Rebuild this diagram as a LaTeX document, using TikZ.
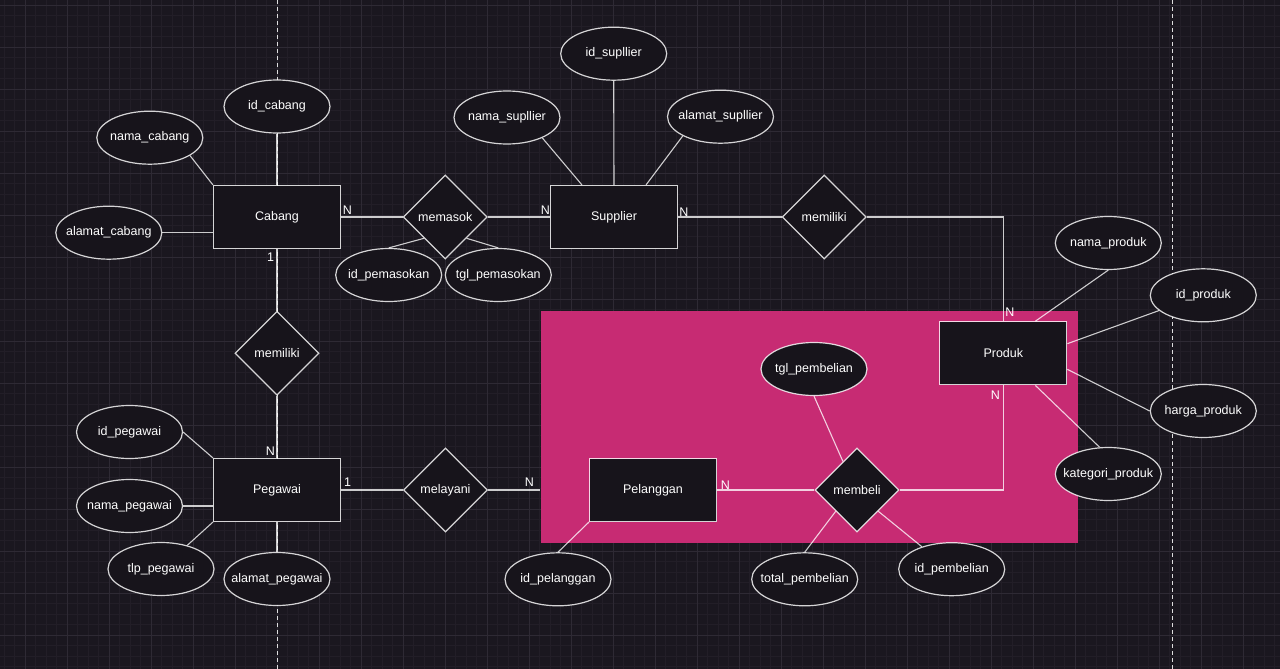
\documentclass[tikz,border=0pt]{standalone}
\usepackage{fontspec}
\setmainfont{Liberation Sans}
\usetikzlibrary{shapes.geometric,calc}
\definecolor{bg}{HTML}{1A171F}
\definecolor{gmaj}{HTML}{2E2A34}
\definecolor{gmin}{HTML}{221E27}
\definecolor{pinkbox}{HTML}{C72B73}
\definecolor{nodefill}{HTML}{17141B}
\newcommand\zt[1]{\makebox[0pt]{#1}}
\begin{document}
\begin{tikzpicture}[x=1pt,y=-1pt,
  base/.style={draw=white, draw opacity=0.82, fill=nodefill, line width=1.2pt, inner sep=0pt,
    text=white, font=\fontsize{12.5}{15}\selectfont},
  ent/.style={base, rectangle, minimum width=127pt, minimum height=63pt},
  rel/.style={base, diamond, aspect=1, minimum width=84pt, minimum height=84pt},
  attr/.style={base, ellipse, minimum width=106pt, minimum height=53pt},
  conn/.style={draw=white, draw opacity=0.78, line width=1.1pt},
  card/.style={text=white, inner sep=0pt, font=\fontsize{12.5}{15}\selectfont}]
\fill[bg] (0,0) rectangle (1280,669);
\useasboundingbox (0,0) rectangle (1280,669);
% grid
\foreach \x in {4,14.5,...,1280} \draw[gmin, line width=0.5pt] (\x,0) -- (\x,669);
\foreach \y in {5,15.5,...,669} \draw[gmin, line width=0.5pt] (0,\y) -- (1280,\y);
\foreach \x in {25,67,...,1280} \draw[gmaj, line width=0.8pt] (\x,0) -- (\x,669);
\foreach \y in {5,47,...,669} \draw[gmaj, line width=0.8pt] (0,\y) -- (1280,\y);
% dashed guides
\draw[white, draw opacity=0.85, line width=0.9pt, dash pattern=on 4pt off 3pt] (277,0) -- (277,669);
\draw[white, draw opacity=0.85, line width=0.9pt, dash pattern=on 4pt off 3pt] (1172,0) -- (1172,669);
% pink area
\node[fill=pinkbox, minimum width=537pt, minimum height=232pt, inner sep=0pt] (zone) at (809,426.7) {};
% entities
\node[ent] (cabang) at (277,217) {Cabang};
\node[ent] (supplier) at (614,217) {Supplier};
\node[ent] (pegawai) at (277,490) {Pegawai};
\node[ent] (pelanggan) at (653,490) {Pelanggan};
\node[ent] (produk) at (1003.3,353.3) {Produk};
% relations
\node[rel] (memasok) at (445.3,217) {memasok};
\node[rel] (memiliki1) at (824.2,217) {memiliki};
\node[rel] (memiliki2) at (277,353.3) {memiliki};
\node[rel] (melayani) at (445.5,490) {melayani};
\node[rel] (membeli) at (857,490) {membeli};
% attributes
\node[attr] (idcabang) at (277,106.5) {\zt{id\_cabang}};
\node[attr] (namacabang) at (149.8,137.7) {\zt{nama\_cabang}};
\node[attr] (alamatcabang) at (108.8,232.7) {\zt{alamat\_cabang}};
\node[attr] (idsupplier) at (613.7,53.7) {\zt{id\_supllier}};
\node[attr] (namasupplier) at (507,117.5) {\zt{nama\_supllier}};
\node[attr] (alamatsupplier) at (720.5,116.7) {\zt{alamat\_supllier}};
\node[attr] (idpemasokan) at (388.7,275) {\zt{id\_pemasokan}};
\node[attr] (tglpemasokan) at (498.3,275) {\zt{tgl\_pemasokan}};
\node[attr] (namaproduk) at (1108.3,243) {\zt{nama\_produk}};
\node[attr] (idproduk) at (1203.3,295.3) {\zt{id\_produk}};
\node[attr] (hargaproduk) at (1203.3,411) {\zt{harga\_produk}};
\node[attr] (kategoriproduk) at (1108.3,474) {\zt{kategori\_produk}};
\node[attr] (tglpembelian) at (814,369) {\zt{tgl\_pembelian}};
\node[attr] (totalpembelian) at (804.7,579.3) {\zt{total\_pembelian}};
\node[attr] (idpembelian) at (951.7,569.2) {\zt{id\_pembelian}};
\node[attr] (idpelanggan) at (558,579.3) {\zt{id\_pelanggan}};
\node[attr] (idpegawai) at (129.5,432) {\zt{id\_pegawai}};
\node[attr] (namapegawai) at (129.5,506) {\zt{nama\_pegawai}};
\node[attr] (tlppegawai) at (161,569) {\zt{tlp\_pegawai}};
\node[attr] (alamatpegawai) at (277,579) {\zt{alamat\_pegawai}};
% connectors: Cabang
\draw[conn] (idcabang.south) -- (cabang.north);
\draw[conn] (namacabang.-24) -- (cabang.north west);
\draw[conn] (alamatcabang.east) -- (alamatcabang.east -| cabang.west);
\draw[conn] (cabang.east) -- (memasok.west);
\draw[conn] (memasok.east) -- (supplier.west);
\draw[conn] (idpemasokan.north) -- ($(memasok.south)!0.5!(memasok.west)$);
\draw[conn] (tglpemasokan.north) -- ($(memasok.south)!0.5!(memasok.east)$);
\draw[conn] (cabang.south) -- (memiliki2.north);
\draw[conn] (memiliki2.south) -- (pegawai.north);
% Supplier
\draw[conn] (idsupplier.south) -- (supplier.north);
\draw[conn] (namasupplier.-30) -- ($(supplier.north west)!0.25!(supplier.north east)$);
\draw[conn] (alamatsupplier.207) -- ($(supplier.north west)!0.75!(supplier.north east)$);
\draw[conn] (supplier.east) -- (memiliki1.west);
\draw[conn] (memiliki1.east) -- (produk.north |- memiliki1.east) -- (produk.north);
% Produk
\draw[conn] (namaproduk.south) -- ($(produk.north west)!0.75!(produk.north east)$);
\draw[conn] (idproduk.199) -- ($(produk.north east)!0.35!(produk.south east)$);
\draw[conn] (hargaproduk.west) -- ($(produk.north east)!0.75!(produk.south east)$);
\draw[conn] (kategoriproduk.108) -- ($(produk.south west)!0.75!(produk.south east)$);
\draw[conn] (produk.south) -- (produk.south |- membeli.east) -- (membeli.east);
% membeli
\draw[conn] (membeli.west) -- (pelanggan.east);
\draw[conn] (tglpembelian.south) -- ($(membeli.north)!0.33!(membeli.west)$);
\draw[conn] (totalpembelian.north) -- ($(membeli.south)!0.5!(membeli.west)$);
\draw[conn] (idpembelian.143) -- ($(membeli.south)!0.5!(membeli.east)$);
\draw[conn] (idpelanggan.north) -- (pelanggan.south west);
% Pegawai
\draw[conn] (idpegawai.east) -- (pegawai.north west);
\draw[conn] (namapegawai.east) -- (namapegawai.east -| pegawai.west);
\draw[conn] (tlppegawai.42) -- (pegawai.south west);
\draw[conn] (alamatpegawai.north) -- (pegawai.south);
\draw[conn] (pegawai.east) -- (melayani.west);
\draw[conn] (melayani.east) -- (melayani.east -| zone.west);
% cardinalities
\node[card] (c1) at (347.5,210) {N};
\node[card] (c2) at (545.3,210) {N};
\node[card] (c3) at (684,211.7) {N};
\node[card] (c4) at (1010,312.5) {N};
\node[card] (c5) at (995.5,395.3) {N};
\node[card] (c6) at (725.5,485) {N};
\node[card] (c7) at (270.5,257.5) {1};
\node[card] (c8) at (270.3,451) {N};
\node[card] (c9) at (347.5,482) {1};
\node[card] (c10) at (529.5,481.7) {N};
\end{tikzpicture}
\end{document}
